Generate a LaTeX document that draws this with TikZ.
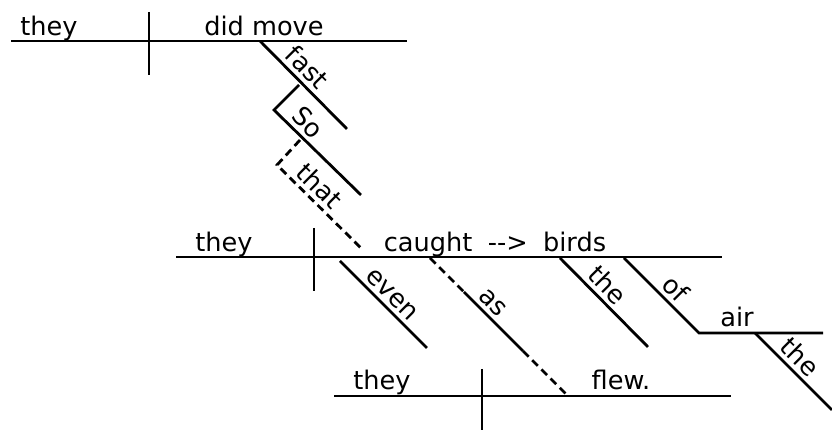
\documentclass[tikz,border=0pt]{standalone}
\usepackage{fontspec}
\setmainfont{DejaVu Sans}
\begin{document}
\begin{tikzpicture}[x=0.5pt, y=-0.5pt, line width=1.4pt,
    word/.style={anchor=base, inner sep=0pt, font=\fontsize{12.8}{15}\selectfont},
    modifier/.style={sloped, above, inner sep=2pt, font=\fontsize{12.8}{15}\selectfont},
    link/.style={dash pattern=on 4pt off 2.5pt}]
    \useasboundingbox (0,0) rectangle (832,431);

    % first clause
    \coordinate (a0) at (11,41);   \coordinate (a1) at (407,41);
    \coordinate (ad0) at (149,12); \coordinate (ad1) at (149,75);
    \node [word] (they1) at (49,36) {they};
    \node [word] (move) at (264,36) {did move};

    % second clause
    \coordinate (b0) at (176,257); \coordinate (b1) at (722,257);
    \coordinate (bd0) at (314,228); \coordinate (bd1) at (314,291);
    \node [word] (they2) at (224,252) {they};
    \node [word] (caught) at (495,252) {caught\hspace{0.6em}-{}->\hspace{0.6em}birds};

    % third clause
    \coordinate (c0) at (334,396); \coordinate (c1) at (731,396);
    \coordinate (cd0) at (482,369); \coordinate (cd1) at (482,430);
    \node [word] (they3) at (382,390) {they};
    \node [word] (flew) at (621,390) {flew.};

    \draw (a0) -- (a1);  \draw (ad0) -- (ad1);
    \draw (b0) -- (b1);  \draw (bd0) -- (bd1);
    \draw (c0) -- (c1);  \draw (cd0) -- (cd1);

    % modifiers
    \coordinate (f0) at (260,41);  \coordinate (f1) at (347,129);
    \coordinate (so0) at (299,85); \coordinate (so1) at (274,110); \coordinate (so2) at (361,195);
    \coordinate (th0) at (300,140); \coordinate (th1) at (277,165); \coordinate (th2) at (363,250);
    \coordinate (e0) at (340,261); \coordinate (e1) at (427,348);
    \coordinate (as0) at (430,258); \coordinate (as1) at (464,292);
    \coordinate (as2) at (523,351); \coordinate (as3) at (567,395);
    \coordinate (t0) at (560,258); \coordinate (t1) at (648,347);
    \coordinate (of0) at (624,258); \coordinate (of1) at (699,333); \coordinate (air1) at (823,333);
    \coordinate (u0) at (755,333); \coordinate (u1) at (832,410);

    \node [word] (air) at (737,327) {air};

    \draw (f0) -- node [modifier, pos=0.42] (fast) {fast} (f1);
    \draw (so0) -- (so1) -- node [modifier, pos=0.27] (so) {So} (so2);
    \draw [link] (th0) -- (th1) -- node [modifier, pos=0.37] (that) {that} (th2);
    \draw (e0) -- node [modifier, pos=0.49] (even) {even} (e1);
    \draw [link] (as0) -- (as1);
    \draw (as1) -- node [modifier, pos=0.33] (as) {as} (as2);
    \draw [link] (as2) -- (as3);
    \draw (t0) -- node [modifier, pos=0.42] (the1) {the} (t1);
    \draw (of0) -- node [modifier, pos=0.55] (of) {of} (of1) -- (air1);
    \draw (u0) -- node [modifier, pos=0.45] (the2) {the} (u1);
\end{tikzpicture}
\end{document}
